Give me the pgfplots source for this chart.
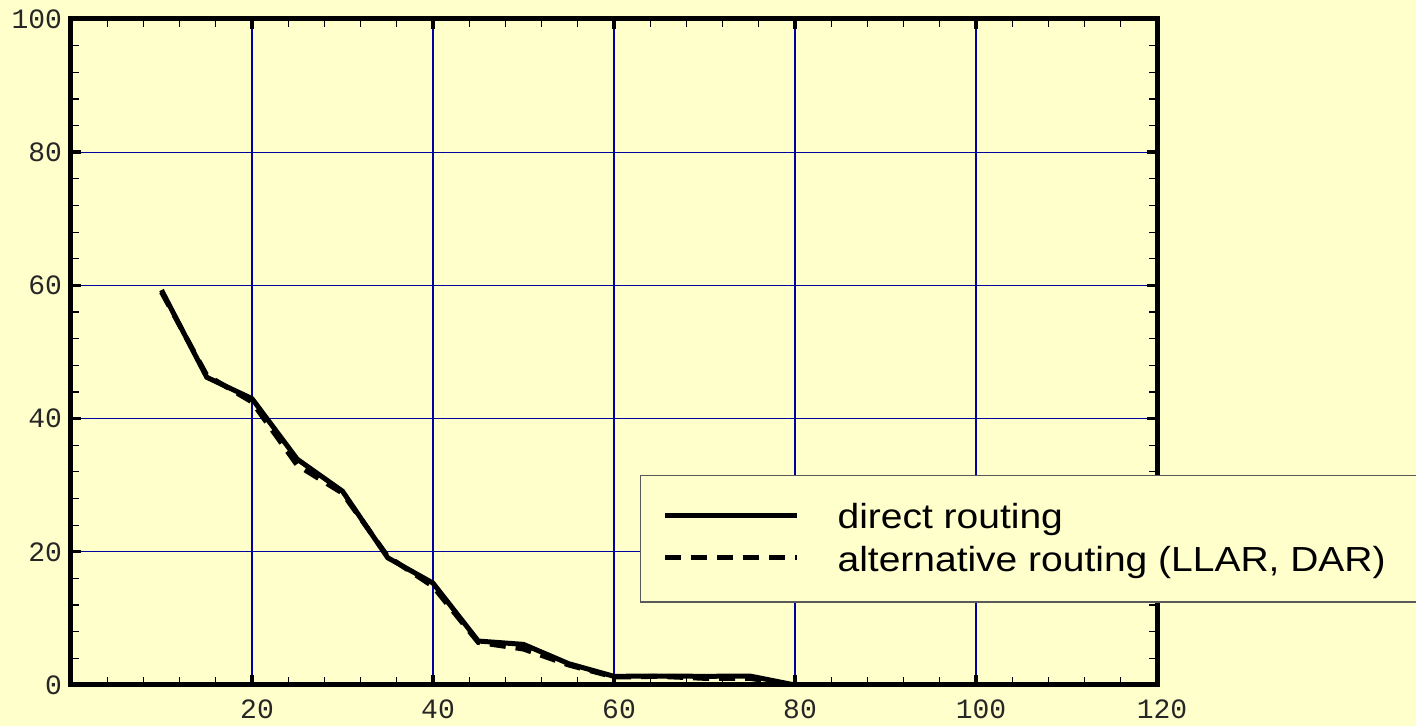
\documentclass[border=0pt]{standalone}
\usepackage{pgfplots}
\pgfplotsset{compat=1.18}
\usepackage{fontspec}
\setmainfont{Liberation Sans}
\newfontfamily\monofont{Liberation Mono}
\newfontfamily\legfont[FakeStretch=1.12]{Liberation Sans}
\definecolor{bg}{HTML}{FFFFCC}
\definecolor{gridblue}{HTML}{0000A0}

\begin{document}
\begin{tikzpicture}
\path[use as bounding box, fill=bg] (-35.5pt,-20.5pt) rectangle (672.5pt,342.5pt);
\clip (-35.5pt,-20.5pt) rectangle (672.5pt,342.5pt);
\begin{axis}[
  at={(0pt,0pt)}, anchor=south west,
  scale only axis, width=543pt, height=333pt,
  xmin=0, xmax=120, ymin=0, ymax=100,
  xtick={0,20,...,120}, xticklabels={,20,40,60,80,100,120},
  ytick={0,20,...,100},
  minor tick num=4,
  grid=major,
  major grid style={gridblue, line width=0.55pt},
  axis line style={line width=2.5pt, line cap=rect},
  tick style={black},
  major tick length=5pt, minor tick length=4pt,
  major tick style={line width=1.7pt},
  minor tick style={line width=0.6pt},
  tick align=inside,
  ticklabel style={font=\monofont\fontsize{14}{14}\selectfont, text=black!85},
  /pgf/number format/assume math mode=true,
  xticklabel style={yshift=-4pt, xshift=2.5pt},
  yticklabel style={xshift=-1pt},
  legend cell align=left,
  legend style={at={(0.52394,0.31532)}, anchor=north west,
    draw=gray!70!black, line width=0.6pt, fill=bg,
    inner xsep=11pt, inner ysep=12pt,
    font=\legfont\fontsize{17.4}{20}\selectfont,
    row sep=3pt, column sep=17pt},
  legend image code/.code={\draw[#1] (0pt,1pt) -- (66pt,1pt);},
]
\addplot[black, line width=2.5pt] coordinates {
 (10,59.3) (15,46.2) (20,43.0) (25,33.9) (30,29.1) (35,19.1) (40,15.3)
 (45,6.6) (50,6.1) (55,3.2) (60,1.3) (65,1.35) (70,1.3) (75,1.35) (80,0) (120,0)};
\addlegendentry{direct routing}
\addplot[black, line width=2.5pt, dash pattern=on 8pt off 5pt] coordinates {
 (10,59.0) (15,46.5) (20,42.5) (25,33.0) (30,28.8) (35,19.3) (40,14.8)
 (45,6.4) (50,5.4) (55,3.0) (60,1.2) (65,1.3) (70,1.0) (75,1.0) (80,0) (120,0)};
\addlegendentry{alternative routing (LLAR, DAR)\hspace*{40pt}}
\end{axis}
\end{tikzpicture}
\end{document}
